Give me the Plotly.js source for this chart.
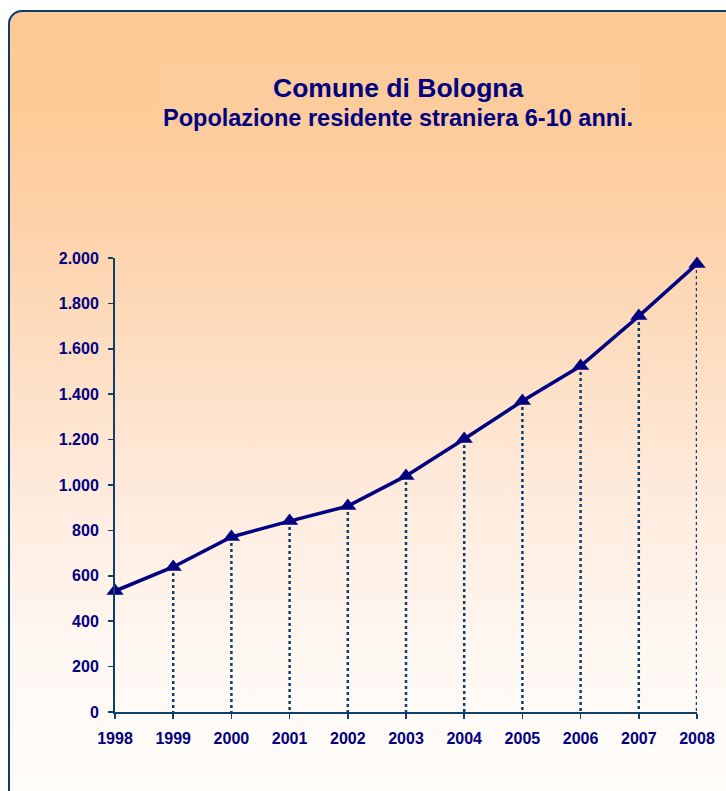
<!DOCTYPE html>
<html>
<head>
<meta charset="utf-8">
<script src="https://cdn.plot.ly/plotly-3.0.1.min.js"></script>
<style>
  html, body { margin: 0; padding: 0; width: 726px; height: 791px; overflow: hidden; background: #ffffff; }
  #frame {
    position: absolute; left: 8px; top: 10px; width: 740px; height: 810px;
    box-sizing: border-box; border: 2px solid #0d3b6e; border-radius: 14px;
    background: linear-gradient(to bottom, #FEC995 0%, #FECB99 14%, #FDD6B2 32%, #FEEBDD 60%, #FFF8F3 80%, #FFFDFB 100%);
  }
  #chart { position: absolute; left: 0; top: 0; width: 726px; height: 791px; }
</style>
</head>
<body>
<div id="frame"></div>
<div id="chart"></div>
<script>
const years = [1998, 1999, 2000, 2001, 2002, 2003, 2004, 2005, 2006, 2007, 2008];
const values = [533, 639, 771, 841, 907, 1040, 1203, 1370, 1524, 1744, 1974];
const yTickVals = [0, 200, 400, 600, 800, 1000, 1200, 1400, 1600, 1800, 2000];
const yTickText = ['0', '200', '400', '600', '800', '1.000', '1.200', '1.400', '1.600', '1.800', '2.000'];
const xTickText = years.map(String);
const titleMain = 'Comune di Bologna';
const titleSub = 'Popolazione residente straniera 6-10 anni.';

const navy = '#000080';
const axisColor = '#0f3f6b';
const fontFamily = '"Liberation Sans", Arial, sans-serif';

const dropX = years.slice(1).flatMap(y => [y, y, null]);
const dropY = values.slice(1).flatMap(v => [v, 0, null]);

const traces = [
  {
    x: dropX, y: dropY, type: 'scatter', mode: 'lines',
    line: { color: axisColor, width: 2.5, dash: '3px,3px' },
    hoverinfo: 'skip', showlegend: false, cliponaxis: false
  },
  {
    x: years, y: values, type: 'scatter', mode: 'lines+markers',
    line: { color: navy, width: 3.5 },
    marker: { symbol: 'triangle-up', size: 15, color: navy },
    showlegend: false, cliponaxis: false
  }
];

// pixel -> paper helpers for layout decoration
const py = Y => (712 - Y) / 454;
const px = X => (X - 115) / 582;

const layout = {
  width: 726, height: 791,
  paper_bgcolor: 'rgba(0,0,0,0)', plot_bgcolor: 'rgba(0,0,0,0)',
  margin: { l: 115, r: 29, t: 258, b: 79 },
  annotations: [
    { text: titleMain, xref: 'paper', yref: 'paper', x: px(398), y: py(88),
      xanchor: 'center', yanchor: 'middle', showarrow: false,
      font: { family: fontFamily, size: 26.5, color: navy, weight: 'bold' } },
    { text: titleSub, xref: 'paper', yref: 'paper', x: px(398), y: py(118),
      xanchor: 'center', yanchor: 'middle', showarrow: false,
      font: { family: fontFamily, size: 23.5, color: navy, weight: 'bold' } }
  ],
  shapes: [
    { type: 'rect', xref: 'paper', yref: 'paper', layer: 'below',
      x0: px(158), x1: px(640), y0: py(140), y1: py(63),
      fillcolor: '#FDCC9C', line: { width: 0 } }
  ],
  xaxis: {
    range: [1998, 2008], tickvals: years, ticktext: xTickText,
    showline: true, linecolor: axisColor, linewidth: 2,
    ticks: 'outside', ticklen: 5, tickcolor: axisColor, tickwidth: 1.5,
    showgrid: false, zeroline: false, ticklabelstandoff: 6,
    tickfont: { family: fontFamily, size: 16, color: navy, weight: 'bold' }
  },
  yaxis: {
    range: [0, 2000], tickvals: yTickVals, ticktext: yTickText,
    showline: true, linecolor: axisColor, linewidth: 2,
    ticks: 'outside', ticklen: 5, tickcolor: axisColor, tickwidth: 1.5,
    showgrid: false, zeroline: false, ticklabelstandoff: 6,
    tickfont: { family: fontFamily, size: 16, color: navy, weight: 'bold' }
  },
  font: { family: fontFamily }
};

Plotly.newPlot('chart', traces, layout, { displayModeBar: false, staticPlot: true });
</script>
</body>
</html>
